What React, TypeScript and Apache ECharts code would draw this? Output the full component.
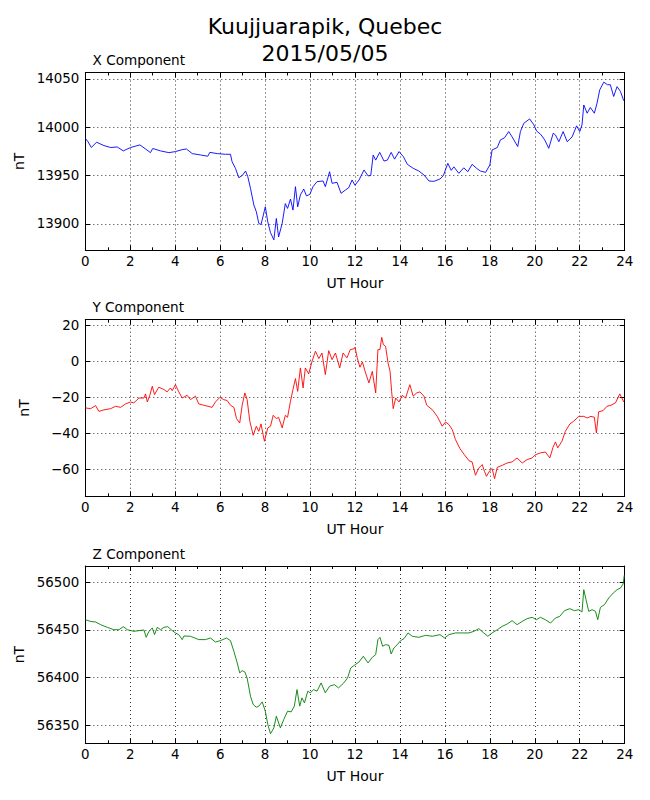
import React, { useEffect, useRef } from "react";
import * as echarts from "echarts";

// ---------- data (hour, nT) ----------
const xComponent: [number, number][] = [
  [0, 13988.6], [0.12, 13985], [0.27, 13979], [0.5, 13984.5], [0.83, 13981], [1.13, 13979],
  [1.42, 13979.6], [1.69, 13975.5], [2.01, 13979], [2.43, 13981.7], [2.68, 13977.5], [2.9, 13973.7],
  [3.0, 13978], [3.35, 13975.5], [3.72, 13973.7], [4.01, 13974.8], [4.31, 13976.8], [4.5, 13977.5],
  [4.76, 13972.7], [5.13, 13971.3], [5.45, 13970], [5.54, 13974], [5.87, 13972.7], [6.24, 13972],
  [6.46, 13972], [6.53, 13964.4], [6.68, 13957.5], [6.83, 13947.8], [6.98, 13950], [7.13, 13954.7],
  [7.23, 13948.9], [7.35, 13936.8], [7.5, 13919.5], [7.61, 13912.6], [7.72, 13900.5], [7.82, 13899.4],
  [8.01, 13917.7], [8.12, 13902], [8.24, 13891], [8.39, 13883.5], [8.5, 13905.6], [8.6, 13886.5],
  [8.76, 13900.5], [8.9, 13921], [9.0, 13916], [9.13, 13925.7], [9.24, 13914.3], [9.35, 13938.5],
  [9.45, 13917.7], [9.57, 13930], [9.72, 13936], [9.84, 13929], [9.99, 13930.5], [10.13, 13938.5],
  [10.31, 13943.7], [10.58, 13944.4], [10.68, 13938.5], [10.87, 13954], [10.98, 13942], [11.2, 13943],
  [11.38, 13931.6], [11.57, 13935], [11.72, 13937.4], [11.87, 13945.4], [12.0, 13940],
  [12.18, 13945.4], [12.4, 13955.8], [12.58, 13949.7], [12.7, 13950], [12.81, 13971.3], [12.92, 13966],
  [13.1, 13974], [13.29, 13965], [13.44, 13966], [13.61, 13974], [13.76, 13967], [13.96, 13974.8],
  [14.15, 13969.6], [14.33, 13961.6], [14.59, 13957.5], [14.84, 13954.7], [15.07, 13950.6], [15.29, 13944.4],
  [15.51, 13944], [15.78, 13946.4], [15.93, 13949.9], [16.13, 13962.7], [16.28, 13955.4], [16.4, 13959],
  [16.62, 13952.3], [16.84, 13958], [17.02, 13954], [17.21, 13961.6], [17.41, 13957.5], [17.58, 13954.7],
  [17.81, 13953.3], [18.0, 13961], [18.1, 13976.5], [18.33, 13979], [18.47, 13986.9], [18.65, 13989],
  [18.84, 13995.5], [18.99, 13990], [19.24, 13980], [19.36, 13995.5], [19.51, 14004], [19.77, 14008.6],
  [19.96, 14002.4], [20.08, 13996], [20.26, 13992.7], [20.44, 13986.9], [20.62, 13978.2], [20.82, 13993.8],
  [20.92, 13992], [21.07, 13985], [21.26, 13995.5], [21.44, 13985], [21.66, 13990], [21.86, 14001.4],
  [22.0, 13995.5], [22.1, 14002.4], [22.18, 14023], [22.33, 14014.5], [22.47, 14020.4], [22.65, 14014.5],
  [22.77, 14025], [22.89, 14038.7], [23.07, 14046.6], [23.24, 14043.9], [23.36, 14044], [23.51, 14031.8],
  [23.66, 14042], [23.81, 14037], [23.96, 14027.3],
];

const yComponent: [number, number][] = [
  [0, -25.9], [0.24, -26.3], [0.46, -24.6], [0.6, -27.8], [0.83, -27], [1.13, -26.3], [1.35, -25],
  [1.57, -25.6], [1.79, -23.7], [2.01, -22.6], [2.16, -23.1], [2.39, -20.4], [2.61, -20.4], [2.68, -18.1],
  [2.76, -22.6], [2.87, -18.9], [2.98, -13.9], [3.08, -18.5], [3.27, -14.4], [3.5, -15.7], [3.64, -17],
  [3.79, -14.8], [3.87, -16.3], [4.01, -13], [4.16, -17], [4.31, -20.4], [4.53, -18.9], [4.68, -21.3],
  [4.9, -19.4], [5.05, -23.7], [5.27, -24.4], [5.64, -25.6], [5.79, -22.6], [5.99, -20], [6.16, -21.3],
  [6.31, -21.8], [6.46, -24.4], [6.61, -25.6], [6.73, -31.9], [6.87, -34.3], [6.98, -24.4], [7.1, -17.6],
  [7.2, -21.3], [7.32, -33.3], [7.47, -41.1], [7.61, -36.1], [7.72, -38.9], [7.82, -34.8], [7.91, -40.7],
  [7.97, -44.4], [8.12, -37], [8.24, -36.1], [8.36, -30], [8.5, -31.9], [8.6, -31.1], [8.76, -37],
  [8.9, -30], [9.0, -31.1], [9.13, -22.2], [9.24, -15.7], [9.35, -9.6], [9.45, -16.7], [9.57, -3.7],
  [9.69, -14.8], [9.79, -3.7], [9.94, -7], [10.09, 0], [10.24, 5.6], [10.39, 1.5], [10.53, 4.6],
  [10.68, -7.4], [10.83, 5.9], [10.98, 0.9], [11.13, 4.6], [11.32, -3.7], [11.47, 4.6], [11.64, 1.9],
  [11.79, 6.5], [11.97, 7], [12.0, 7.8], [12.1, 1.9], [12.22, -3.3], [12.33, -0.4], [12.47, -6.5],
  [12.62, -12], [12.77, -5.6], [12.92, -17.6], [13.02, 6.5], [13.11, 6.5], [13.19, 13.3], [13.26, 9.3],
  [13.36, 8.3], [13.47, -0.9], [13.56, -5.6], [13.63, -16.7], [13.7, -26.3], [13.81, -20.4], [13.96, -22.6],
  [14.1, -18.9], [14.25, -20.4], [14.44, -13], [14.59, -19.4], [14.74, -17.6], [14.89, -17], [15.07, -19.4],
  [15.19, -24.4], [15.44, -26.9], [15.66, -30.6], [15.88, -36.1], [16.03, -33.7], [16.18, -35.2], [16.33, -38],
  [16.47, -43.5], [16.67, -48.5], [16.84, -51.5], [17.07, -55.2], [17.21, -55.9], [17.36, -63.3], [17.51, -59.3],
  [17.66, -57.4], [17.76, -61.1], [17.85, -63.9], [18.0, -60.7], [18.1, -59.6], [18.21, -65.2], [18.33, -58.9],
  [18.55, -57.8], [18.77, -56.5], [18.99, -55.9], [19.21, -53.7], [19.44, -56.5], [19.66, -54.6], [19.88, -53.7],
  [20.03, -51.9], [20.25, -50.9], [20.47, -50.4], [20.67, -53.7], [20.81, -47.8], [20.92, -44.8], [21.02, -48.1],
  [21.21, -44.4], [21.36, -38.9], [21.56, -34.8], [21.73, -33.3], [21.96, -30.6], [22.18, -30.6], [22.33, -31.5],
  [22.5, -30.6], [22.65, -31.1], [22.74, -39.8], [22.84, -28.1], [23.04, -27.4], [23.21, -25], [23.39, -24.4],
  [23.59, -23.1], [23.78, -18.1], [23.96, -22.6],
];

const zComponent: [number, number][] = [
  [0, 56460.8], [0.24, 56459], [0.46, 56458.4], [0.68, 56455.6], [0.98, 56452.8], [1.27, 56450.3],
  [1.5, 56450.3], [1.69, 56453.5], [1.87, 56450.3], [2.16, 56448.6], [2.39, 56449.3], [2.61, 56450],
  [2.71, 56442.3], [2.83, 56448.6], [2.98, 56452.1], [3.08, 56445.1], [3.2, 56452.8], [3.35, 56450.3],
  [3.5, 56452.8], [3.67, 56453.5], [3.82, 56450.3], [4.01, 56446.9], [4.16, 56445.1], [4.31, 56439.9],
  [4.39, 56443.7], [4.68, 56443.4], [5.05, 56439.9], [5.35, 56439.9], [5.57, 56441.6], [5.79, 56437.4],
  [6.01, 56438.8], [6.28, 56441.6], [6.46, 56438.8], [6.61, 56427.6], [6.76, 56415.4], [6.87, 56404.9],
  [6.98, 56407.3], [7.1, 56405.9], [7.2, 56399.6], [7.35, 56380.4], [7.47, 56371.7], [7.61, 56368.9],
  [7.72, 56370], [7.87, 56374.5], [8.01, 56364.7], [8.12, 56350.7], [8.24, 56341], [8.39, 56347.2],
  [8.5, 56359.4], [8.68, 56347.2], [8.83, 56356], [9.0, 56364.7], [9.16, 56364], [9.3, 56370],
  [9.42, 56387.4], [9.54, 56370], [9.64, 56378.7], [9.75, 56373.4], [9.9, 56385.7], [10.01, 56384],
  [10.16, 56387.4], [10.31, 56385.7], [10.49, 56394.4], [10.68, 56384], [10.87, 56391], [11.08, 56392.6],
  [11.27, 56389.2], [11.5, 56394.4], [11.67, 56399.6], [11.81, 56410.1], [12.01, 56413.6],
  [12.18, 56416.4], [12.37, 56422.4], [12.58, 56415.4], [12.77, 56421.3], [12.92, 56424.1], [13.02, 56439.9],
  [13.11, 56442.3], [13.23, 56432.9], [13.36, 56434.6], [13.51, 56433.9], [13.61, 56424.8], [13.73, 56431.1],
  [13.88, 56434.6], [14.03, 56438.8], [14.18, 56440.9], [14.36, 56446.9], [14.55, 56443.4], [14.84, 56442.3],
  [15.14, 56444.4], [15.44, 56443.4], [15.78, 56445.1], [15.99, 56441.6], [16.18, 56445.1], [16.47, 56446.9],
  [16.77, 56446.9], [17.07, 56446.9], [17.29, 56448.6], [17.51, 56451.4], [17.73, 56446.9], [17.91, 56443.4],
  [18.1, 56446.9], [18.33, 56450.3], [18.55, 56453.8], [18.77, 56456.3], [18.99, 56459.8], [19.21, 56455.6],
  [19.44, 56459], [19.66, 56461.9], [19.88, 56463.3], [20.07, 56460.8], [20.25, 56463.3], [20.47, 56460.8],
  [20.7, 56457.3], [20.92, 56462.6], [21.11, 56464.3], [21.32, 56470.3], [21.56, 56472.4], [21.76, 56470.3],
  [21.96, 56471.3], [22.1, 56468.9], [22.18, 56492.3], [22.28, 56481.8], [22.4, 56469.6], [22.55, 56471.3],
  [22.7, 56469.6], [22.8, 56460.8], [22.92, 56473.8], [23.1, 56476.6], [23.29, 56483.6], [23.49, 56488.8],
  [23.66, 56492.3], [23.81, 56494.1], [23.93, 56498.3], [23.98, 56507.4],
];

const xTicks = [13900, 13950, 14000, 14050];
const yTicks = [-60, -40, -20, 0, 20];
const zTicks = [56350, 56400, 56450, 56500];

const titles = ["X Component", "Y Component", "Z Component"];
const colors = ["#0000ff", "#ff0000", "#008000"];
const yLimits: [number, number][] = [
  [13872.7, 14056.6],
  [-75, 23.1],
  [56331, 56517.2],
];

const FONT = "DejaVu Sans";
const GRID_LEFT = 85.3;
const GRID_WIDTH = 539.4;
const PANEL_TOPS = [72.5, 319.7, 566];
const PANEL_HEIGHTS = [177.8, 176.6, 177.3];

function buildOption() {
  const datasets = [xComponent, yComponent, zComponent];
  const ticks = [xTicks, yTicks, zTicks];
  const grid: any[] = [];
  const xAxis: any[] = [];
  const yAxis: any[] = [];
  const series: any[] = [];
  const graphic: any[] = [];
  const axisLine = { show: true, onZero: false, lineStyle: { color: "#000", width: 1 } };
  const splitLine = { show: true, lineStyle: { color: "#000", width: 0.8, type: [1, 3] } };
  const label = { color: "#000", fontSize: 13.4, fontFamily: FONT };

  for (let i = 0; i < 3; i++) {
    grid.push({
      left: GRID_LEFT,
      top: PANEL_TOPS[i],
      width: GRID_WIDTH,
      height: PANEL_HEIGHTS[i],
      containLabel: false,
    });
    const xBase = {
      type: "value",
      gridIndex: i,
      min: 0,
      max: 24,
      interval: 2,
      axisLine,
      axisTick: { show: true, inside: true, length: 5, lineStyle: { color: "#000", width: 1 } },
      minorTick: { show: true, splitNumber: 2, length: 3, lineStyle: { color: "#000", width: 1 } },
    };
    xAxis.push({
      ...xBase,
      position: "bottom",
      name: "UT Hour",
      nameLocation: "middle",
      nameGap: 26,
      nameTextStyle: { color: "#000", fontSize: 14, fontFamily: FONT },
      axisLabel: { ...label, margin: 5 },
      splitLine,
    });
    xAxis.push({
      ...xBase,
      position: "top",
      axisLabel: { show: false },
      splitLine: { show: false },
    });
    const yBase = {
      type: "value",
      gridIndex: i,
      min: yLimits[i][0],
      max: yLimits[i][1],
      axisLine,
      axisTick: {
        show: true,
        inside: true,
        length: 5,
        customValues: ticks[i],
        lineStyle: { color: "#000", width: 1 },
      },
    };
    yAxis.push({
      ...yBase,
      position: "left",
      name: "nT",
      nameLocation: "middle",
      nameGap: 54,
      nameRotate: 90,
      nameTextStyle: { color: "#000", fontSize: 14, fontFamily: FONT },
      axisLabel: {
        ...label,
        margin: 6,
        customValues: ticks[i],
        formatter: (v: number) => (v < 0 ? "\u2212" + Math.abs(v) : String(v)),
      },
      splitLine,
    });
    yAxis.push({
      ...yBase,
      position: "right",
      axisLabel: { show: false },
      splitLine: { show: false },
    });
    series.push({
      type: "line",
      xAxisIndex: i * 2,
      yAxisIndex: i * 2,
      data: datasets[i],
      showSymbol: false,
      symbol: "none",
      lineStyle: { color: colors[i], width: 0.9 },
      silent: true,
    });
    graphic.push({
      type: "text",
      x: 92.5,
      y: PANEL_TOPS[i] - 12.5,
      style: {
        text: titles[i],
        fontSize: 13.6,
        fontFamily: FONT,
        fill: "#000",
        align: "left",
        verticalAlign: "middle",
      },
    });
  }

  return {
    animation: false,
    backgroundColor: "#fff",
    title: {
      text: "Kuujjuarapik, Quebec\n2015/05/05",
      left: "center",
      top: 8,
      padding: 5,
      textStyle: {
        color: "#000",
        fontSize: 22,
        lineHeight: 26.7,
        fontWeight: "normal",
        fontFamily: FONT,
      },
    },
    grid,
    xAxis,
    yAxis,
    series,
    graphic,
  };
}

export default function App() {
  const ref = useRef<HTMLDivElement>(null);
  useEffect(() => {
    document.body.style.margin = "0";
    if (!ref.current) return;
    const chart = echarts.init(ref.current, undefined, { renderer: "svg" });
    chart.setOption(buildOption() as any);
    return () => chart.dispose();
  }, []);
  return <div ref={ref} style={{ width: 650, height: 800 }} />;
}
